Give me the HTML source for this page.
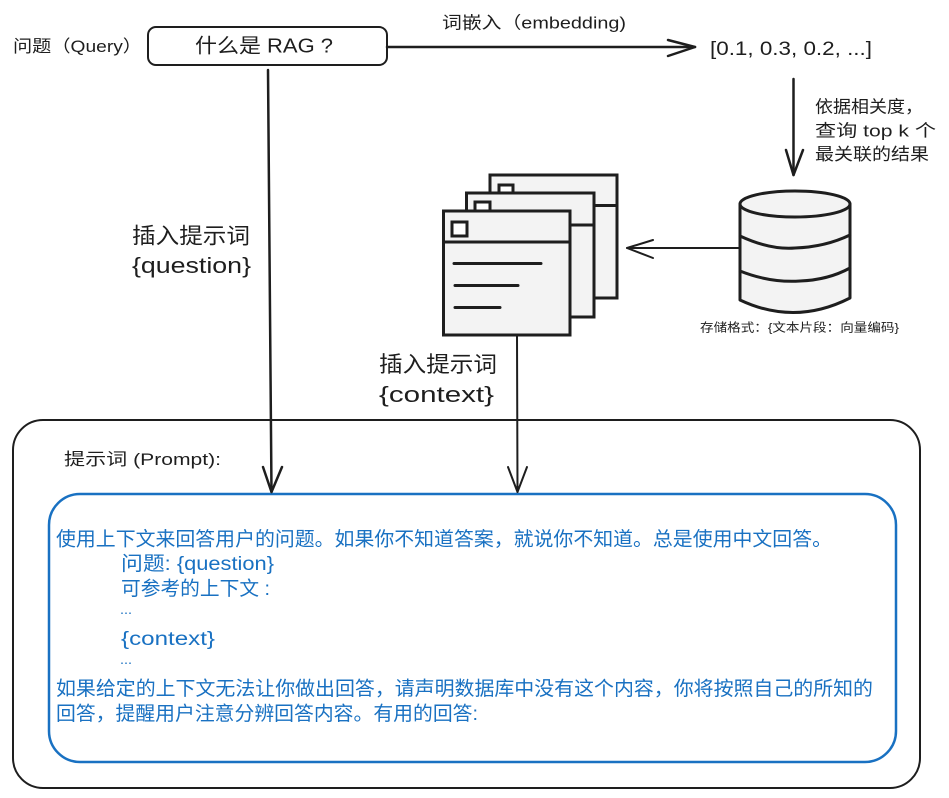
<!DOCTYPE html>
<html>
<head>
<meta charset="utf-8">
<style>
  html,body{margin:0;padding:0;background:#ffffff;}
  body{width:949px;height:798px;overflow:hidden;}
  svg{display:block;}
  text{font-family:"Liberation Sans","Noto Sans CJK SC",sans-serif;fill:#1e1e1e;}
  .b{fill:#1971c2;}
</style>
</head>
<body>
<svg width="949" height="798" viewBox="0 0 949 798" xmlns="http://www.w3.org/2000/svg">
  <rect x="0" y="0" width="949" height="798" fill="#ffffff"/>

  <!-- Query label -->
  <text x="13" y="52" font-size="17" textLength="129" lengthAdjust="spacingAndGlyphs">问题（Query）</text>

  <!-- Query box -->
  <rect x="148" y="27" width="239" height="38" rx="8" ry="8" fill="none" stroke="#1e1e1e" stroke-width="2"/>
  <text x="195" y="52.5" font-size="20" textLength="138" lengthAdjust="spacingAndGlyphs">什么是 RAG ?</text>

  <!-- embedding arrow -->
  <line x1="387" y1="47" x2="695" y2="47" stroke="#1e1e1e" stroke-width="2.5" stroke-linecap="round"/>
  <polyline points="668,40 695,47 668,56" fill="none" stroke="#1e1e1e" stroke-width="2.5" stroke-linecap="round" stroke-linejoin="round"/>
  <text x="442" y="28.5" font-size="17" textLength="184" lengthAdjust="spacingAndGlyphs">词嵌入（embedding)</text>

  <!-- vector -->
  <text x="710" y="55" font-size="19" textLength="162" lengthAdjust="spacingAndGlyphs">[0.1, 0.3, 0.2, ...]</text>

  <!-- vertical arrow to db -->
  <line x1="793.5" y1="79" x2="793.5" y2="175" stroke="#1e1e1e" stroke-width="2.5" stroke-linecap="round"/>
  <polyline points="786,150 793.5,175 803,150" fill="none" stroke="#1e1e1e" stroke-width="2.5" stroke-linecap="round" stroke-linejoin="round"/>
  <text x="815" y="112.5" font-size="17" textLength="108" lengthAdjust="spacingAndGlyphs">依据相关度，</text>
  <text x="815" y="136.5" font-size="17" textLength="121" lengthAdjust="spacingAndGlyphs">查询 top k 个</text>
  <text x="815" y="160" font-size="17" textLength="114" lengthAdjust="spacingAndGlyphs">最关联的结果</text>

  <!-- cylinder -->
  <path d="M740,204 L740,300 Q795,326 850,298 L850,204 Z" fill="#f3f3f3" stroke="#1e1e1e" stroke-width="3" stroke-linejoin="round"/>
  <ellipse cx="795" cy="204" rx="55" ry="13" fill="#f3f3f3" stroke="#1e1e1e" stroke-width="3"/>
  <path d="M740,236 Q770,250 795,248 Q825,247 850,235" fill="none" stroke="#1e1e1e" stroke-width="3" stroke-linecap="round"/>
  <path d="M740,271 Q770,283 800,281 Q828,280 850,268" fill="none" stroke="#1e1e1e" stroke-width="3" stroke-linecap="round"/>
  <text x="700" y="331.5" font-size="12" textLength="199" lengthAdjust="spacingAndGlyphs">存储格式：{文本片段：向量编码}</text>

  <!-- arrow db -> docs -->
  <line x1="740" y1="248" x2="627" y2="248" stroke="#1e1e1e" stroke-width="2" stroke-linecap="round"/>
  <polyline points="653,240 627,248 653,258" fill="none" stroke="#1e1e1e" stroke-width="2" stroke-linecap="round" stroke-linejoin="round"/>

  <!-- documents: back -->
  <rect x="490" y="175" width="127" height="123" fill="#f3f3f3" stroke="#1e1e1e" stroke-width="3"/>
  <line x1="490" y1="205.5" x2="617" y2="205.5" stroke="#1e1e1e" stroke-width="3"/>
  <rect x="499" y="185" width="14" height="14" fill="#ffffff" stroke="#1e1e1e" stroke-width="3"/>
  <!-- middle -->
  <rect x="466.5" y="193" width="127.5" height="124" fill="#f3f3f3" stroke="#1e1e1e" stroke-width="3"/>
  <line x1="466.5" y1="225" x2="594" y2="225" stroke="#1e1e1e" stroke-width="3"/>
  <rect x="475" y="202" width="15" height="14" fill="#ffffff" stroke="#1e1e1e" stroke-width="3"/>
  <!-- front -->
  <rect x="443.5" y="211" width="126.5" height="124" fill="#f3f3f3" stroke="#1e1e1e" stroke-width="3"/>
  <line x1="443.5" y1="242" x2="570" y2="242" stroke="#1e1e1e" stroke-width="3"/>
  <rect x="452" y="222" width="15" height="14" fill="#ffffff" stroke="#1e1e1e" stroke-width="3"/>
  <line x1="454" y1="263.5" x2="541" y2="263.5" stroke="#1e1e1e" stroke-width="3" stroke-linecap="round"/>
  <line x1="455" y1="285.5" x2="518" y2="285.5" stroke="#1e1e1e" stroke-width="3" stroke-linecap="round"/>
  <line x1="455" y1="307.5" x2="500" y2="307.5" stroke="#1e1e1e" stroke-width="3" stroke-linecap="round"/>

  <!-- question label -->
  <text x="132" y="243.5" font-size="22" textLength="118" lengthAdjust="spacingAndGlyphs">插入提示词</text>
  <text x="132" y="273" font-size="22" textLength="119" lengthAdjust="spacingAndGlyphs">{question}</text>

  <!-- context label -->
  <text x="379" y="372" font-size="22" textLength="118" lengthAdjust="spacingAndGlyphs">插入提示词</text>
  <text x="379" y="402" font-size="22" textLength="115" lengthAdjust="spacingAndGlyphs">{context}</text>

  <!-- outer prompt box -->
  <rect x="13" y="420" width="907" height="368" rx="30" ry="30" fill="none" stroke="#1e1e1e" stroke-width="2"/>
  <text x="64" y="465" font-size="17" textLength="157" lengthAdjust="spacingAndGlyphs">提示词 (Prompt):</text>

  <!-- inner blue box -->
  <rect x="49" y="494" width="847" height="268" rx="31" ry="31" fill="none" stroke="#1971c2" stroke-width="2.5"/>

  <!-- question arrow -->
  <line x1="268" y1="70" x2="271.5" y2="492" stroke="#1e1e1e" stroke-width="2.5" stroke-linecap="round"/>
  <polyline points="263,467 271.5,492 282,467" fill="none" stroke="#1e1e1e" stroke-width="2.5" stroke-linecap="round" stroke-linejoin="round"/>

  <!-- context arrow -->
  <line x1="517" y1="335" x2="517.5" y2="492" stroke="#1e1e1e" stroke-width="2" stroke-linecap="round"/>
  <polyline points="508,467 517.5,492 527,467" fill="none" stroke="#1e1e1e" stroke-width="2" stroke-linecap="round" stroke-linejoin="round"/>

  <!-- blue prompt text -->
  <text class="b" x="56" y="545.5" font-size="19.5" textLength="776" lengthAdjust="spacingAndGlyphs">使用上下文来回答用户的问题。如果你不知道答案，就说你不知道。总是使用中文回答。</text>
  <text class="b" x="121" y="570" font-size="19.5" textLength="153" lengthAdjust="spacingAndGlyphs">问题: {question}</text>
  <text class="b" x="121" y="595" font-size="19.5" textLength="149" lengthAdjust="spacingAndGlyphs">可参考的上下文 :</text>
  <text class="b" x="120" y="614" font-size="14" textLength="12" lengthAdjust="spacingAndGlyphs">...</text>
  <text class="b" x="121" y="645" font-size="19.5" textLength="94" lengthAdjust="spacingAndGlyphs">{context}</text>
  <text class="b" x="120" y="664" font-size="14" textLength="12" lengthAdjust="spacingAndGlyphs">...</text>
  <text class="b" x="56" y="695" font-size="19.5" textLength="817" lengthAdjust="spacingAndGlyphs">如果给定的上下文无法让你做出回答，请声明数据库中没有这个内容，你将按照自己的所知的</text>
  <text class="b" x="56" y="720" font-size="19.5" textLength="422" lengthAdjust="spacingAndGlyphs">回答，提醒用户注意分辨回答内容。有用的回答:</text>
</svg>
</body>
</html>
